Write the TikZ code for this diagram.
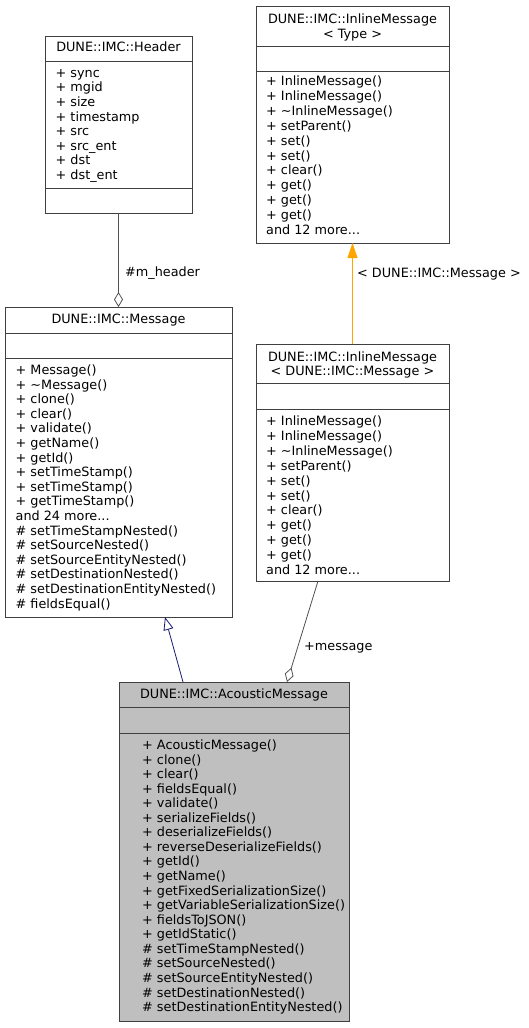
\documentclass[tikz,border=0pt]{standalone}
\usepackage{fontspec}
\setmainfont{DejaVu Sans}
\usetikzlibrary{arrows.meta,positioning}
\definecolor{dxborder}{HTML}{404040}
\definecolor{dxedge}{HTML}{505050}
\definecolor{dxnavy}{HTML}{191970}
\definecolor{dxorange}{HTML}{FFA500}
\definecolor{dxfill}{HTML}{BFBFBF}
\newcommand{\dxfont}{\fontsize{12.8}{14.6}\selectfont}
\newcommand{\dxmore}{...}
\tikzset{
  umlbox/.style ={draw=dxborder, line width=0.9pt, fill=white, inner sep=0pt,
                  outer sep=0pt, anchor=north west},
  sepline/.style={draw=dxborder, line width=0.9pt},
  member/.style ={anchor=base west, inner sep=0pt, font=\dxfont},
  ctitle/.style ={anchor=base, inner sep=0pt, font=\dxfont},
  elabel/.style ={anchor=west, inner sep=0pt, font=\dxfont},
  usage/.style  ={draw=dxedge, line width=0.8pt, -{Diamond[open, length=15pt, width=9pt]}},
  inherit/.style={draw=dxnavy, line width=0.8pt, -{Triangle[open, length=13pt, width=10pt]}},
  tmpl/.style   ={draw=dxorange, line width=0.8pt, -{Triangle[length=15pt, width=10pt]}},
}
\begin{document}
\begin{tikzpicture}[x=1pt,y=-1pt]
    \useasboundingbox (0,0) rectangle (528,1028);
    % --- DUNE::IMC::Header ---
    \node[umlbox, minimum width=147pt, minimum height=177pt] (hdr) at (45,36) {};
    \draw[sepline] ([yshift=-25pt]hdr.north west) -- ([yshift=-25pt]hdr.north east);
    \draw[sepline] ([yshift=-152pt]hdr.north west) -- ([yshift=-152pt]hdr.north east);
    \node[ctitle] (hdrt) at (118.5,51.5) {DUNE::IMC::Header};
    \foreach \m [count=\i from 0] in {+ sync, + mgid, + size, + timestamp, + src,
        + src\_ent, + dst, + dst\_ent}
      \node[member] (hdrm\i) at (55.5,{77.2+14.6*\i}) {\m};
    % --- DUNE::IMC::InlineMessage< Type > ---
    \node[umlbox, minimum width=193pt, minimum height=237pt] (inltype) at (256,6) {};
    \draw[sepline] ([yshift=-40pt]inltype.north west) -- ([yshift=-40pt]inltype.north east);
    \draw[sepline] ([yshift=-65pt]inltype.north west) -- ([yshift=-65pt]inltype.north east);
    \node[ctitle] (inltypet1) at (352.5,23.4) {DUNE::IMC::InlineMessage};
    \node[ctitle] (inltypet2) at (352.5,38) {< Type >};
    \foreach \m [count=\i from 0] in {+ InlineMessage(), + InlineMessage(),
        + \textasciitilde InlineMessage(), + setParent(), + set(), + set(), + clear(),
        + get(), + get(), + get(), and 12 more\dxmore}
      \node[member] (inltypem\i) at (266,{85.5+14.9*\i}) {\m};
    % --- DUNE::IMC::Message ---
    \node[umlbox, minimum width=227pt, minimum height=310pt] (msg) at (5,307) {};
    \draw[sepline] ([yshift=-26pt]msg.north west) -- ([yshift=-26pt]msg.north east);
    \draw[sepline] ([yshift=-51pt]msg.north west) -- ([yshift=-51pt]msg.north east);
    \node[ctitle] (msgt) at (118.5,323) {DUNE::IMC::Message};
    \foreach \m [count=\i from 0] in {+ Message(), + \textasciitilde Message(), + clone(),
        + clear(), + validate(), + getName(), + getId(), + setTimeStamp(),
        + setTimeStamp(), + getTimeStamp(), and 24 more\dxmore, \# setTimeStampNested(),
        \# setSourceNested(), \# setSourceEntityNested(), \# setDestinationNested(),
        \# setDestinationEntityNested(), \# fieldsEqual()}
      \node[member] (msgm\i) at (15.5,{374.5+14.6*\i}) {\m};
    % --- DUNE::IMC::InlineMessage< DUNE::IMC::Message > ---
    \node[umlbox, minimum width=193pt, minimum height=237pt] (inlmsg) at (256,344) {};
    \draw[sepline] ([yshift=-39pt]inlmsg.north west) -- ([yshift=-39pt]inlmsg.north east);
    \draw[sepline] ([yshift=-65pt]inlmsg.north west) -- ([yshift=-65pt]inlmsg.north east);
    \node[ctitle] (inlmsgt1) at (352.5,361) {DUNE::IMC::InlineMessage};
    \node[ctitle] (inlmsgt2) at (352.5,375.5) {< DUNE::IMC::Message >};
    \foreach \m [count=\i from 0] in {+ InlineMessage(), + InlineMessage(),
        + \textasciitilde InlineMessage(), + setParent(), + set(), + set(), + clear(),
        + get(), + get(), + get(), and 12 more\dxmore}
      \node[member] (inlmsgm\i) at (266,{425.5+14.9*\i}) {\m};
    % --- DUNE::IMC::AcousticMessage ---
    \node[umlbox, fill=dxfill, minimum width=230pt, minimum height=339pt] (acm) at (119,682) {};
    \draw[sepline] ([yshift=-25pt]acm.north west) -- ([yshift=-25pt]acm.north east);
    \draw[sepline] ([yshift=-51pt]acm.north west) -- ([yshift=-51pt]acm.north east);
    \node[ctitle] (acmt) at (234,698) {DUNE::IMC::AcousticMessage};
    \foreach \m [count=\i from 0] in {+ AcousticMessage(), + clone(), + clear(),
        + fieldsEqual(), + validate(), + serializeFields(), + deserializeFields(),
        + reverseDeserializeFields(), + getId(), + getName(),
        + getFixedSerializationSize(), + getVariableSerializationSize(),
        + fieldsToJSON(), + getIdStatic(), \# setTimeStampNested(),
        \# setSourceNested(), \# setSourceEntityNested(), \# setDestinationNested(),
        \# setDestinationEntityNested()}
      \node[member] (acmm\i) at (142,{749.5+14.56*\i}) {\m};
    % --- connectors ---
    \draw[usage] (hdr.south) -- (msg.north);
    \node[elabel] (lblhdr) at (125,273) {\#m\_header};
    \draw[tmpl] (inlmsg.north) -- (inltype.south);
    \node[elabel] (lbltmpl) at (357,274) {< DUNE::IMC::Message >};
    \draw[inherit] ([xshift=-51pt]acm.north) -- ([xshift=46.5pt]msg.south);
    \draw[usage] ([xshift=-34.5pt]inlmsg.south) -- ([xshift=53pt]acm.north);
    \node[elabel] (lblmsg) at (304,648) {+message};
\end{tikzpicture}
\end{document}
